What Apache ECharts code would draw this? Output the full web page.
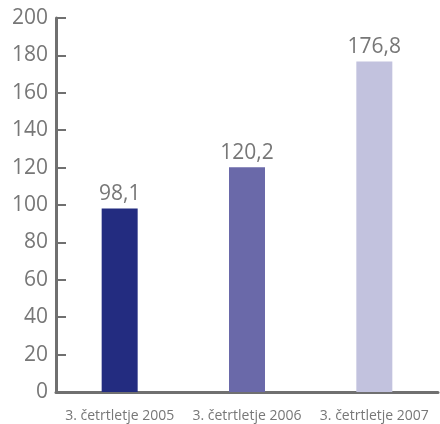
<!DOCTYPE html>
<html><head><meta charset="utf-8">
<script src="https://cdn.jsdelivr.net/npm/echarts@6/dist/echarts.min.js"></script>
<style>html,body{margin:0;padding:0;background:#fff}#c{width:440px;height:424px}</style>
</head><body><div id="c"></div>
<script>
const categories = ['3. četrtletje 2005', '3. četrtletje 2006', '3. četrtletje 2007'];
const values = [98.1, 120.2, 176.8];
const barColors = ['#232c80', '#6a69a9', '#c2c2de'];
const chart = echarts.init(document.getElementById('c'));
const grey = '#707070';
chart.setOption({
  animation: false,
  grid: { left: 56, right: 2, top: 18, bottom: 32 },
  xAxis: {
    type: 'category', data: categories,
    axisLine: { lineStyle: { color: grey, width: 3 } },
    axisTick: { inside: true, length: 9, lineStyle: { color: grey, width: 2 } },
    axisLabel: { interval: 0, color: '#777', fontSize: 14, fontFamily: 'Open Sans', margin: 17 }
  },
  yAxis: {
    type: 'value', min: 0, max: 200, interval: 20,
    splitLine: { show: false },
    axisLine: { show: true, lineStyle: { color: grey, width: 3 } },
    axisTick: { show: true, inside: true, length: 10, lineStyle: { color: grey, width: 2 } },
    axisLabel: { color: '#777', fontSize: 21, fontFamily: 'Open Sans', margin: 8 }
  },
  series: [{
    type: 'bar', barWidth: 36,
    data: values.map((v, i) => ({ value: v, itemStyle: { color: barColors[i] } })),
    label: { show: true, position: 'top', distance: 4, color: '#777', fontSize: 21, fontFamily: 'Open Sans',
      formatter: p => String(p.value).replace('.', ',') }
  }]
});
</script></body></html>
